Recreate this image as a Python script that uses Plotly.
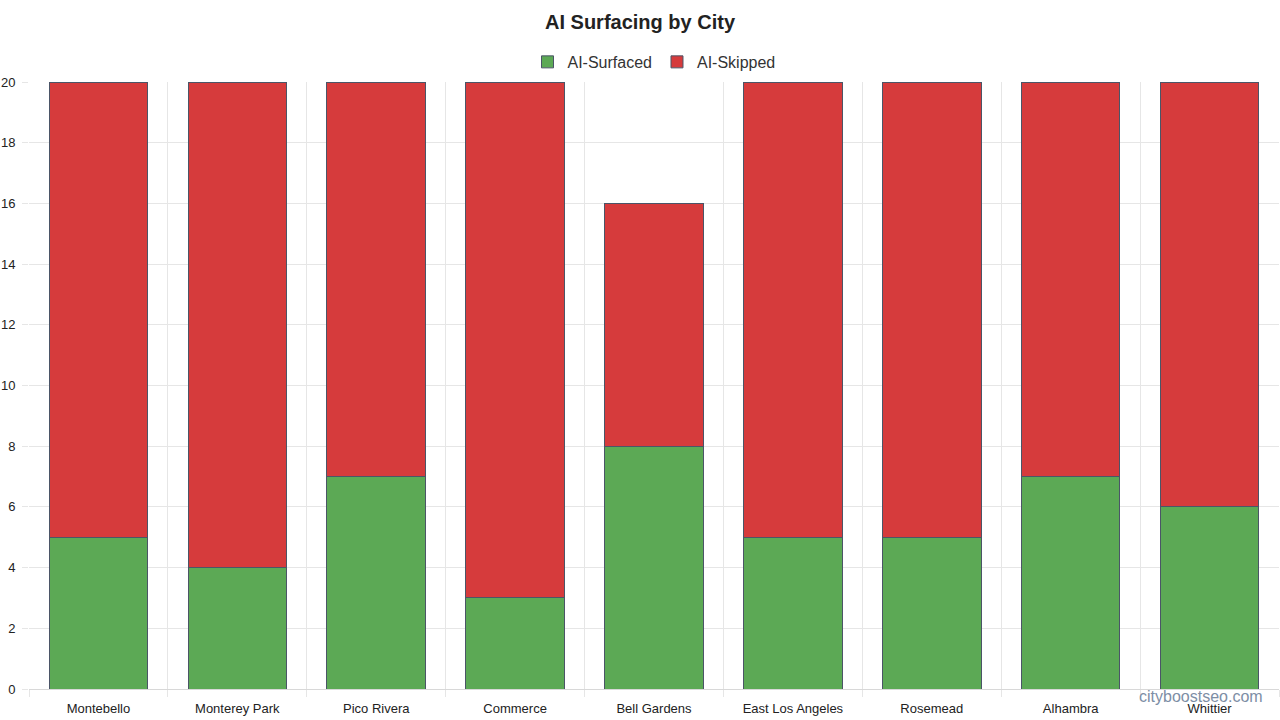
import plotly.graph_objects as go

cities = ["Montebello", "Monterey Park", "Pico Rivera", "Commerce", "Bell Gardens",
          "East Los Angeles", "Rosemead", "Alhambra", "Whittier"]
surfaced = [5, 4, 7, 3, 8, 5, 5, 7, 6]
skipped = [15, 16, 13, 17, 8, 15, 15, 13, 14]
y_ticks = [0, 2, 4, 6, 8, 10, 12, 14, 16, 18, 20]

FONT = "Liberation Sans, Arial, Helvetica, sans-serif"
GREEN = "#5ca955"
RED = "#d63b3c"
EDGE = "#4b5567"
GRID = "#e6e6e6"

fig = go.Figure()
fig.add_trace(go.Bar(x=cities, y=surfaced, name="AI-Surfaced",
                     marker=dict(color=GREEN, line=dict(color=EDGE, width=1))))
fig.add_trace(go.Bar(x=cities, y=skipped, name="AI-Skipped",
                     marker=dict(color=RED, line=dict(color=EDGE, width=1))))

n = len(cities)
boundaries = [i - 0.5 for i in range(n + 1)]

fig.update_layout(
    barmode="stack",
    bargap=0.29,
    width=1280, height=720,
    paper_bgcolor="white", plot_bgcolor="white",
    font=dict(family=FONT, size=13, color="#222"),
    title=dict(text="<b>AI Surfacing by City</b>", x=0.5, xanchor="center",
               y=0.97, yanchor="middle", font=dict(size=20, color="#222", family=FONT)),
    legend=dict(orientation="h", x=0.5, xanchor="center", y=1.005, yanchor="bottom",
                font=dict(size=16, color="#333"), traceorder="normal"),
    margin=dict(l=29, r=1, t=82, b=31, autoexpand=False),
    xaxis=dict(type="category", range=[-0.5, n - 0.5], showgrid=False, automargin=False,
               tickfont=dict(size=13, color="#222"), ticks="", ticklabelstandoff=7,
               showline=True, linecolor="#d8d8d8", linewidth=1),
    xaxis2=dict(overlaying="x", range=[-0.5, n - 0.5], tickvals=boundaries,
                showticklabels=False, showgrid=True, gridcolor=GRID,
                gridwidth=1, zeroline=False, ticks="outside", ticklen=7, tickcolor=GRID,
                side="bottom", automargin=False),
    yaxis=dict(range=[0, 20], tickvals=y_ticks, showgrid=True, gridcolor=GRID,
               tickfont=dict(size=13, color="#222"), zeroline=False, ticks="outside",
               ticklen=6, tickcolor=GRID, ticklabelstandoff=4,
               showline=False, automargin=False),
    annotations=[dict(text="cityboostseo.com", xref="paper", yref="paper",
                      x=0.9885, y=-0.012, xanchor="right", yanchor="middle",
                      showarrow=False, font=dict(size=16, color="#7d8ea5", family=FONT))],
)
fig.add_trace(go.Scatter(x=[0], y=[0], xaxis="x2", mode="markers",
                         marker=dict(opacity=0), showlegend=False, hoverinfo="skip"))
fig.update_layout(xaxis2_layer="below traces")

fig.write_html("out.html", config={"displayModeBar": False},
               post_script="document.body.style.margin='0';document.body.style.padding='0';")
